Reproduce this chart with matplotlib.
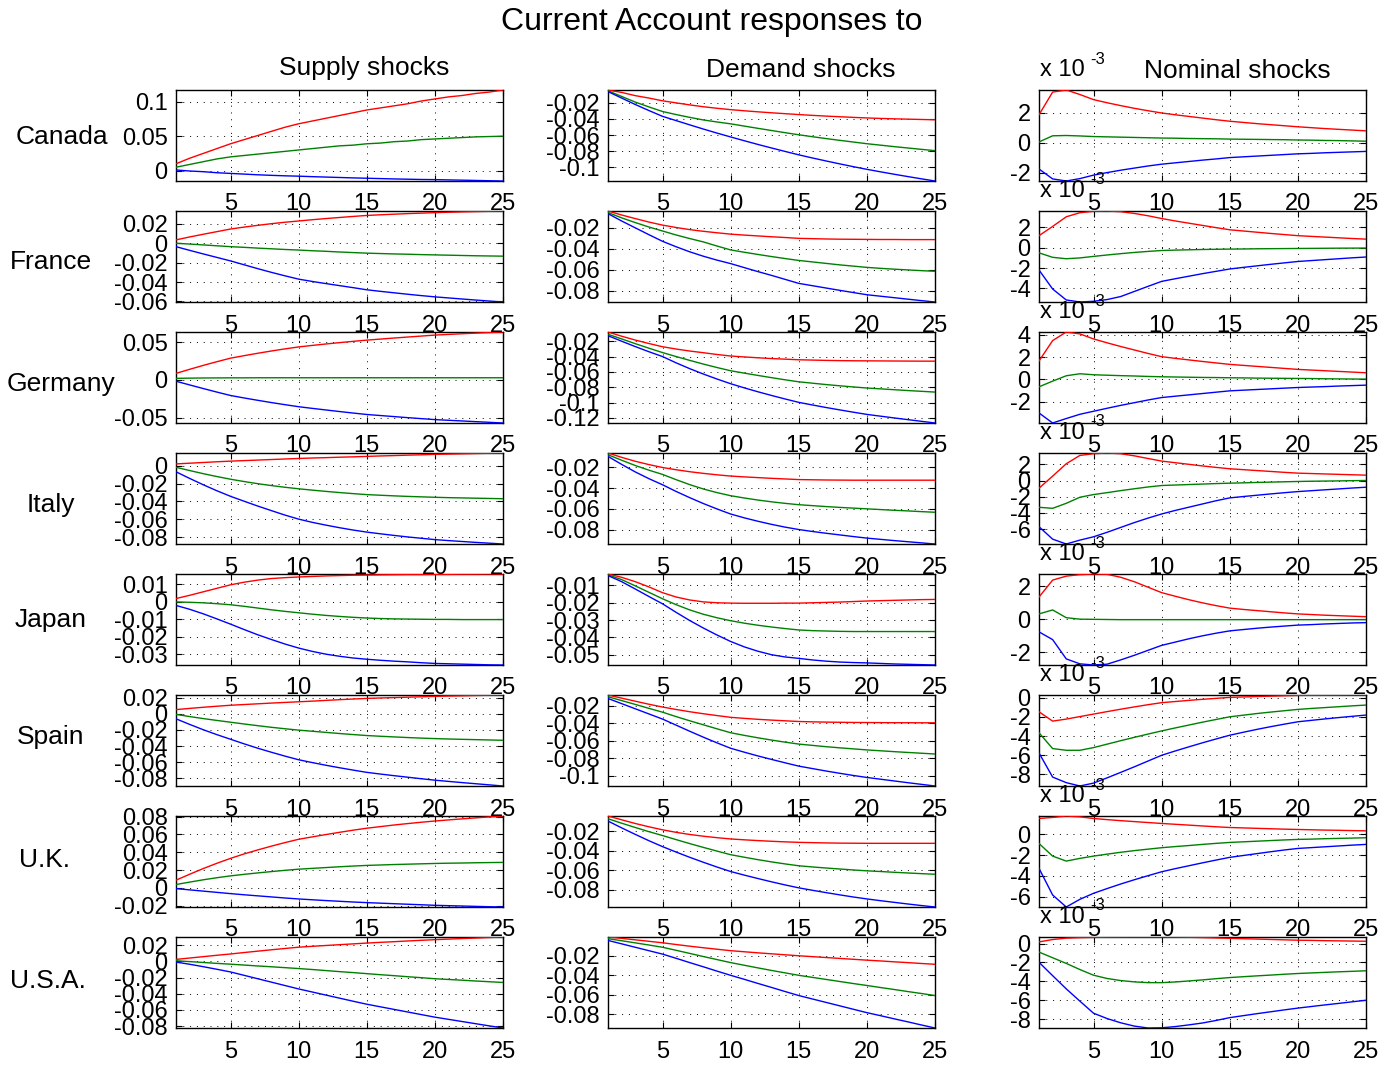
import matplotlib
matplotlib.use("Agg")
import matplotlib.pyplot as plt
from matplotlib.ticker import FuncFormatter, FixedLocator

plt.rcParams['font.family'] = ['Liberation Sans', 'DejaVu Sans']

# ---------------- data ----------------
TITLE = "Current Account responses to"
SHOCKS = ["Supply shocks", "Demand shocks", "Nominal shocks"]
COUNTRIES = ["Canada", "France", "Germany", "Italy", "Japan", "Spain", "U.K.", "U.S.A."]
HORIZON = list(range(1, 26))
XTICKS = [5, 10, 15, 20, 25]
EXP_LABEL = "x 10"
EXP_POWER = "-3"
# Nominal-shock values are in units of 1e-3 (shown with the "x 10^-3" label)

# Canada
CAN_S_R = [0.010,0.018,0.025,0.032,0.039,0.045,0.051,0.057,0.063,0.068,0.072,0.076,0.080,0.084,0.088,0.091,0.094,0.097,0.101,0.104,0.107,0.109,0.112,0.114,0.117]
CAN_S_G = [0.005,0.009,0.013,0.017,0.020,0.022,0.024,0.026,0.028,0.030,0.032,0.034,0.036,0.037,0.039,0.040,0.042,0.043,0.045,0.046,0.047,0.048,0.049,0.0495,0.050]
CAN_S_B = [0.001,-0.0005,-0.0015,-0.003,-0.004,-0.005,-0.006,-0.0068,-0.0075,-0.008,-0.0087,-0.0093,-0.0099,-0.0105,-0.011,-0.0115,-0.012,-0.0124,-0.0128,-0.013,-0.0134,-0.0138,-0.0142,-0.0146,-0.015]
CAN_D_R = [-0.004,-0.007,-0.011,-0.014,-0.0174,-0.020,-0.0225,-0.0248,-0.0267,-0.0284,-0.0298,-0.0311,-0.0323,-0.0334,-0.0345,-0.0355,-0.0364,-0.0372,-0.038,-0.0387,-0.0393,-0.0398,-0.0402,-0.0406,-0.041]
CAN_D_G = [-0.005,-0.012,-0.019,-0.025,-0.0307,-0.0345,-0.038,-0.0412,-0.0437,-0.046,-0.0488,-0.0516,-0.0543,-0.057,-0.0596,-0.062,-0.0643,-0.0665,-0.0686,-0.0707,-0.0725,-0.0743,-0.076,-0.0777,-0.0793]
CAN_D_B = [-0.006,-0.014,-0.022,-0.0295,-0.0367,-0.042,-0.0473,-0.0525,-0.0575,-0.0623,-0.067,-0.0716,-0.076,-0.0803,-0.0845,-0.0884,-0.0921,-0.0957,-0.0992,-0.1025,-0.1056,-0.1086,-0.1115,-0.1143,-0.117]
CAN_N_R = [1.85,3.36,3.5,3.2,2.86,2.65,2.46,2.28,2.12,1.97,1.85,1.74,1.63,1.52,1.42,1.34,1.26,1.19,1.12,1.05,0.99,0.93,0.88,0.83,0.78]
CAN_N_G = [0.04,0.45,0.47,0.44,0.40,0.38,0.36,0.34,0.32,0.30,0.29,0.27,0.26,0.25,0.23,0.22,0.21,0.2,0.19,0.17,0.16,0.14,0.13,0.11,0.09]
CAN_N_B = [-1.76,-2.42,-2.56,-2.4,-2.17,-2.0,-1.84,-1.7,-1.56,-1.44,-1.35,-1.26,-1.17,-1.09,-1.0,-0.95,-0.9,-0.85,-0.8,-0.75,-0.72,-0.68,-0.65,-0.62,-0.59]

# France
FRA_S_R = [0.0035,0.0065,0.0093,0.012,0.0147,0.0167,0.0185,0.0202,0.0217,0.023,0.0243,0.0255,0.0266,0.0277,0.0287,0.0294,0.03,0.0306,0.0311,0.0316,0.032,0.0324,0.0327,0.033,0.0333]
FRA_S_G = [0.0,-0.0008,-0.0017,-0.0026,-0.0035,-0.0042,-0.005,-0.0057,-0.0064,-0.007,-0.0077,-0.0083,-0.009,-0.0096,-0.0102,-0.0106,-0.011,-0.0113,-0.0117,-0.012,-0.0123,-0.0126,-0.0129,-0.0131,-0.0133]
FRA_S_B = [-0.0035,-0.0073,-0.0110,-0.0146,-0.0182,-0.0222,-0.0262,-0.03,-0.0336,-0.037,-0.0394,-0.0416,-0.0437,-0.0458,-0.048,-0.0496,-0.0511,-0.0526,-0.054,-0.0553,-0.0564,-0.0575,-0.0586,-0.0596,-0.0606]
FRA_D_R = [-0.004,-0.0078,-0.0112,-0.0145,-0.0174,-0.0197,-0.0217,-0.0233,-0.0247,-0.026,-0.0269,-0.0277,-0.0285,-0.0292,-0.030,-0.0303,-0.0306,-0.0308,-0.0309,-0.031,-0.0311,-0.0311,-0.0312,-0.0312,-0.0312]
FRA_D_G = [-0.0055,-0.0105,-0.0150,-0.0192,-0.023,-0.0268,-0.0302,-0.0334,-0.0373,-0.041,-0.0432,-0.0453,-0.0473,-0.0492,-0.051,-0.0524,-0.0538,-0.0552,-0.0564,-0.0576,-0.0585,-0.0593,-0.0600,-0.0607,-0.0613]
FRA_D_B = [-0.0065,-0.0135,-0.020,-0.0265,-0.0328,-0.038,-0.0428,-0.0470,-0.0507,-0.054,-0.0578,-0.0616,-0.0652,-0.0690,-0.0728,-0.075,-0.0772,-0.0794,-0.0815,-0.0836,-0.085,-0.0864,-0.0878,-0.0892,-0.0905]
FRA_N_R = [1.19,2.1,3.05,3.45,3.59,3.62,3.55,3.38,3.15,2.88,2.64,2.42,2.2,1.98,1.77,1.65,1.53,1.41,1.3,1.19,1.12,1.05,0.98,0.91,0.85]
FRA_N_G = [-0.5,-0.94,-1.08,-1.0,-0.85,-0.71,-0.58,-0.46,-0.36,-0.27,-0.23,-0.2,-0.17,-0.15,-0.13,-0.12,-0.1,-0.09,-0.08,-0.07,-0.06,-0.05,-0.04,-0.035,-0.03]
FRA_N_B = [-2.19,-4.06,-5.14,-5.34,-5.27,-5.1,-4.8,-4.3,-3.8,-3.31,-3.05,-2.8,-2.55,-2.32,-2.09,-1.93,-1.78,-1.63,-1.49,-1.35,-1.26,-1.17,-1.08,-0.99,-0.91]

# Germany
GER_S_R = [0.0086,0.0140,0.0192,0.0241,0.0288,0.0321,0.0353,0.0383,0.0411,0.0437,0.0457,0.0476,0.0494,0.0511,0.0527,0.0541,0.0555,0.0568,0.0581,0.0594,0.0603,0.0612,0.0620,0.0628,0.0635]
GER_S_G = [0.0020,0.0023,0.0025,0.0026,0.0027,0.0027,0.0028,0.0028,0.0028,0.0028,0.0028,0.0028,0.0028,0.0028,0.0028,0.0028,0.0028,0.0028,0.0028,0.0028,0.0028,0.0028,0.0028,0.0028,0.0028]
GER_S_B = [-0.0018,-0.0067,-0.0115,-0.0162,-0.0207,-0.0240,-0.0271,-0.0301,-0.0329,-0.0356,-0.0378,-0.0399,-0.0420,-0.0440,-0.0459,-0.0473,-0.0487,-0.0501,-0.0514,-0.0527,-0.0536,-0.0545,-0.0554,-0.0563,-0.0572]
GER_D_R = [-0.008,-0.0135,-0.0185,-0.023,-0.0272,-0.0302,-0.0328,-0.0350,-0.0373,-0.0393,-0.0405,-0.0416,-0.0426,-0.0434,-0.0442,-0.0446,-0.0450,-0.0453,-0.0455,-0.0456,-0.0457,-0.0458,-0.0459,-0.046,-0.046]
GER_D_G = [-0.011,-0.0170,-0.0232,-0.0291,-0.0348,-0.0400,-0.0450,-0.0498,-0.0543,-0.0585,-0.0616,-0.0646,-0.0675,-0.0703,-0.0729,-0.0747,-0.0765,-0.0781,-0.0796,-0.081,-0.0821,-0.0832,-0.0843,-0.0853,-0.0863]
GER_D_B = [-0.0128,-0.0200,-0.0270,-0.0337,-0.0400,-0.0482,-0.0558,-0.0628,-0.0693,-0.0754,-0.0808,-0.0859,-0.0907,-0.0953,-0.0997,-0.1031,-0.1064,-0.1095,-0.1125,-0.1154,-0.1177,-0.1200,-0.1222,-0.1244,-0.1266]
GER_N_R = [1.65,3.48,4.25,4.08,3.63,3.28,2.95,2.64,2.33,2.04,1.89,1.75,1.61,1.48,1.35,1.26,1.17,1.08,0.99,0.9,0.84,0.78,0.72,0.66,0.6]
GER_N_G = [-0.66,-0.15,0.33,0.51,0.42,0.38,0.34,0.31,0.27,0.24,0.22,0.2,0.18,0.17,0.15,0.14,0.12,0.11,0.1,0.09,0.08,0.06,0.05,0.04,0.03]
GER_N_B = [-3.0,-3.9,-3.5,-3.12,-2.85,-2.58,-2.32,-2.08,-1.84,-1.62,-1.5,-1.38,-1.26,-1.14,-1.02,-0.96,-0.9,-0.84,-0.78,-0.72,-0.68,-0.64,-0.59,-0.55,-0.51]

# Italy
ITA_S_R = [0.0019,0.0027,0.0035,0.0043,0.005,0.0056,0.0062,0.0068,0.0074,0.008,0.0085,0.0089,0.0094,0.0098,0.0103,0.0108,0.0112,0.0117,0.0121,0.0126,0.0129,0.0132,0.0135,0.0138,0.0141]
ITA_S_G = [-0.0019,-0.0055,-0.0090,-0.0122,-0.0152,-0.0178,-0.0202,-0.0223,-0.0242,-0.0259,-0.0274,-0.0288,-0.0301,-0.0313,-0.0324,-0.0331,-0.0338,-0.0344,-0.0349,-0.0354,-0.0358,-0.0361,-0.0364,-0.0367,-0.037]
ITA_S_B = [-0.0069,-0.0143,-0.0214,-0.0281,-0.0343,-0.0398,-0.0452,-0.0503,-0.0553,-0.0598,-0.0634,-0.0665,-0.0694,-0.0720,-0.0743,-0.0762,-0.0780,-0.0797,-0.0812,-0.0827,-0.0838,-0.0848,-0.0858,-0.0867,-0.0876]
ITA_D_R = [-0.006,-0.0102,-0.0140,-0.0172,-0.020,-0.0222,-0.0241,-0.0257,-0.0271,-0.0283,-0.0291,-0.0298,-0.0305,-0.0311,-0.0317,-0.0319,-0.0321,-0.0322,-0.0323,-0.0323,-0.0323,-0.0323,-0.0323,-0.0323,-0.0323]
ITA_D_G = [-0.0077,-0.0130,-0.0181,-0.0226,-0.0267,-0.0318,-0.0366,-0.0408,-0.0443,-0.0473,-0.0495,-0.0515,-0.0532,-0.0547,-0.056,-0.0569,-0.0578,-0.0586,-0.0593,-0.06,-0.0607,-0.0614,-0.062,-0.0627,-0.0633]
ITA_D_B = [-0.0093,-0.0170,-0.0243,-0.0308,-0.0367,-0.0432,-0.0492,-0.0549,-0.0601,-0.065,-0.0687,-0.0720,-0.0750,-0.0777,-0.080,-0.0819,-0.0836,-0.0852,-0.0868,-0.0883,-0.0895,-0.0907,-0.0918,-0.0929,-0.094]
ITA_N_R = [-0.95,0.54,2.07,3.1,3.31,3.4,3.31,3.05,2.72,2.4,2.2,2.0,1.8,1.62,1.45,1.34,1.23,1.12,1.01,0.91,0.86,0.81,0.76,0.71,0.66]
ITA_N_G = [-3.31,-3.44,-2.82,-2.07,-1.74,-1.5,-1.25,-1.02,-0.8,-0.62,-0.56,-0.5,-0.44,-0.38,-0.33,-0.29,-0.24,-0.2,-0.16,-0.12,-0.09,-0.07,-0.05,-0.02,0.0]
ITA_N_B = [-5.71,-7.25,-7.85,-7.37,-6.96,-6.4,-5.8,-5.2,-4.65,-4.14,-3.7,-3.3,-2.9,-2.5,-2.15,-1.98,-1.82,-1.66,-1.51,-1.37,-1.26,-1.15,-1.04,-0.93,-0.83]

# Japan
JPN_S_R = [0.00195,0.0038,0.0058,0.0078,0.0098,0.0113,0.0125,0.0134,0.0139,0.0143,0.0146,0.0149,0.0151,0.0153,0.0154,0.0155,0.0156,0.0157,0.0157,0.0158,0.0158,0.0159,0.0159,0.016,0.016]
JPN_S_G = [0.0,-0.0002,-0.0005,-0.001,-0.0016,-0.0025,-0.0035,-0.0045,-0.0054,-0.0062,-0.0070,-0.0077,-0.0083,-0.0088,-0.0092,-0.0095,-0.0097,-0.0098,-0.0099,-0.0100,-0.0100,-0.0101,-0.0101,-0.0101,-0.0101]
JPN_S_B = [-0.002,-0.0042,-0.0068,-0.0097,-0.0127,-0.0158,-0.0188,-0.0215,-0.0241,-0.0264,-0.0283,-0.0299,-0.0311,-0.0321,-0.0328,-0.0334,-0.0339,-0.0343,-0.0348,-0.0352,-0.0354,-0.0356,-0.0358,-0.036,-0.0361]
JPN_D_R = [-0.0036,-0.0055,-0.0080,-0.0110,-0.0143,-0.0168,-0.0185,-0.0196,-0.0201,-0.0203,-0.0204,-0.0204,-0.0204,-0.0203,-0.0203,-0.0201,-0.0199,-0.0197,-0.0194,-0.0191,-0.0189,-0.0187,-0.0185,-0.0183,-0.0182]
JPN_D_G = [-0.0041,-0.0068,-0.0104,-0.0141,-0.0178,-0.0212,-0.0242,-0.0267,-0.0287,-0.0304,-0.0318,-0.0330,-0.0340,-0.0349,-0.0357,-0.0361,-0.0363,-0.0365,-0.0366,-0.0366,-0.0366,-0.0366,-0.0366,-0.0366,-0.0366]
JPN_D_B = [-0.0045,-0.0080,-0.0122,-0.0165,-0.0207,-0.0256,-0.0303,-0.0346,-0.0386,-0.0423,-0.0454,-0.0479,-0.0499,-0.0512,-0.052,-0.0529,-0.0536,-0.0541,-0.0544,-0.0546,-0.0549,-0.0552,-0.0554,-0.0556,-0.0558]
JPN_N_R = [1.35,2.38,2.62,2.71,2.75,2.73,2.55,2.28,1.95,1.62,1.4,1.19,1.0,0.83,0.68,0.6,0.53,0.46,0.39,0.33,0.29,0.25,0.22,0.19,0.16]
JPN_N_G = [0.33,0.57,0.1,0.01,0.0,-0.01,-0.02,-0.02,-0.02,-0.02,-0.02,-0.02,-0.02,-0.02,-0.02,-0.02,-0.02,-0.02,-0.02,-0.02,-0.02,-0.02,-0.02,-0.02,-0.02]
JPN_N_B = [-0.76,-1.23,-2.4,-2.7,-2.77,-2.72,-2.46,-2.18,-1.88,-1.58,-1.38,-1.18,-1.0,-0.84,-0.7,-0.62,-0.54,-0.47,-0.41,-0.35,-0.32,-0.28,-0.25,-0.22,-0.2]

# Spain
ESP_S_R = [0.0051,0.0066,0.0080,0.0093,0.0105,0.0114,0.0123,0.0132,0.014,0.0148,0.0156,0.0165,0.0174,0.0182,0.019,0.0195,0.0200,0.0205,0.021,0.0215,0.0219,0.0222,0.0226,0.0229,0.0232]
ESP_S_G = [-0.0008,-0.0035,-0.0060,-0.0083,-0.0105,-0.0127,-0.0148,-0.0168,-0.0186,-0.0203,-0.0217,-0.0231,-0.0245,-0.0258,-0.027,-0.0279,-0.0287,-0.0295,-0.0302,-0.0308,-0.0313,-0.0317,-0.0321,-0.0325,-0.0329]
ESP_S_B = [-0.0063,-0.0132,-0.0198,-0.0259,-0.0316,-0.0373,-0.0427,-0.0477,-0.0525,-0.057,-0.0605,-0.0638,-0.0669,-0.0698,-0.0726,-0.0747,-0.0767,-0.0786,-0.0805,-0.0823,-0.0838,-0.0853,-0.0867,-0.0881,-0.0895]
ESP_D_R = [-0.0074,-0.011,-0.0145,-0.018,-0.0212,-0.0240,-0.0266,-0.0289,-0.031,-0.033,-0.0342,-0.0353,-0.0362,-0.0370,-0.0378,-0.0382,-0.0385,-0.0387,-0.0389,-0.039,-0.0391,-0.0392,-0.0392,-0.0393,-0.0393]
ESP_D_G = [-0.0094,-0.0138,-0.0182,-0.0227,-0.0271,-0.0322,-0.0370,-0.0416,-0.0462,-0.0507,-0.0537,-0.0565,-0.0591,-0.0615,-0.0637,-0.0652,-0.0667,-0.0680,-0.0692,-0.0704,-0.0714,-0.0724,-0.0733,-0.0742,-0.0751]
ESP_D_B = [-0.0114,-0.0173,-0.0232,-0.0291,-0.035,-0.0420,-0.0490,-0.0558,-0.0623,-0.0685,-0.0730,-0.0773,-0.0813,-0.0852,-0.089,-0.0918,-0.0946,-0.0972,-0.0997,-0.102,-0.104,-0.106,-0.108,-0.1099,-0.1118]
ESP_N_R = [-1.47,-2.44,-2.23,-1.97,-1.71,-1.45,-1.2,-0.96,-0.73,-0.52,-0.4,-0.28,-0.17,-0.07,0.03,0.08,0.12,0.16,0.2,0.24,0.25,0.26,0.27,0.28,0.28]
ESP_N_G = [-3.66,-5.3,-5.48,-5.48,-5.2,-4.84,-4.48,-4.13,-3.79,-3.46,-3.15,-2.85,-2.55,-2.27,-1.99,-1.82,-1.65,-1.5,-1.36,-1.22,-1.12,-1.03,-0.94,-0.85,-0.77]
ESP_N_B = [-5.76,-8.27,-8.85,-9.2,-8.9,-8.35,-7.78,-7.2,-6.6,-6.0,-5.55,-5.12,-4.7,-4.3,-3.91,-3.6,-3.3,-3.02,-2.76,-2.51,-2.36,-2.21,-2.07,-1.94,-1.81]

# U.K.
GBR_S_R = [0.0087,0.0153,0.0217,0.0276,0.0331,0.0381,0.0426,0.0468,0.0508,0.0545,0.0572,0.0598,0.0623,0.0647,0.0669,0.0687,0.0705,0.0721,0.0736,0.0750,0.0762,0.0774,0.0785,0.0796,0.0806]
GBR_S_G = [0.0038,0.0065,0.0091,0.0114,0.0135,0.0152,0.0168,0.0183,0.0197,0.021,0.0219,0.0228,0.0237,0.0245,0.0252,0.0257,0.0262,0.0266,0.027,0.0274,0.0277,0.0279,0.0282,0.0284,0.0286]
GBR_S_B = [-0.0008,-0.0022,-0.0036,-0.005,-0.0064,-0.0077,-0.0089,-0.0101,-0.0113,-0.0124,-0.0133,-0.0142,-0.015,-0.0158,-0.0165,-0.0171,-0.0177,-0.0183,-0.0189,-0.0195,-0.0199,-0.0203,-0.0207,-0.0211,-0.0214]
GBR_D_R = [-0.0044,-0.0083,-0.0121,-0.0155,-0.0186,-0.0212,-0.0234,-0.0252,-0.0267,-0.028,-0.0289,-0.0297,-0.0304,-0.031,-0.0315,-0.0318,-0.0321,-0.0323,-0.0324,-0.0325,-0.0325,-0.0325,-0.0325,-0.0325,-0.0325]
GBR_D_G = [-0.0072,-0.0118,-0.0162,-0.0205,-0.0245,-0.0287,-0.0328,-0.0367,-0.0405,-0.0442,-0.0468,-0.0493,-0.0516,-0.0537,-0.0556,-0.0568,-0.0579,-0.0589,-0.0599,-0.0608,-0.0615,-0.0623,-0.063,-0.0637,-0.0643]
GBR_D_B = [-0.0096,-0.0166,-0.0233,-0.0298,-0.0359,-0.0415,-0.0469,-0.052,-0.0569,-0.0615,-0.0652,-0.0687,-0.0721,-0.0753,-0.0783,-0.0808,-0.0832,-0.0855,-0.0877,-0.0897,-0.0915,-0.0932,-0.0949,-0.0965,-0.098]
GBR_N_R = [1.54,1.64,1.78,1.7,1.54,1.43,1.33,1.24,1.15,1.06,0.98,0.9,0.82,0.74,0.67,0.63,0.59,0.55,0.51,0.48,0.45,0.42,0.4,0.37,0.35]
GBR_N_G = [-0.87,-2.09,-2.57,-2.31,-2.09,-1.9,-1.72,-1.56,-1.42,-1.28,-1.17,-1.07,-0.96,-0.86,-0.77,-0.71,-0.65,-0.59,-0.53,-0.48,-0.45,-0.41,-0.38,-0.35,-0.32]
GBR_N_B = [-3.27,-5.84,-7.0,-6.26,-5.68,-5.22,-4.78,-4.37,-3.98,-3.6,-3.3,-3.02,-2.74,-2.47,-2.21,-2.03,-1.85,-1.67,-1.5,-1.35,-1.27,-1.19,-1.11,-1.03,-0.96]

# U.S.A.
USA_S_R = [0.0025,0.0042,0.0059,0.0076,0.0092,0.0110,0.0127,0.0144,0.0160,0.0176,0.0187,0.0197,0.0207,0.0217,0.0227,0.0236,0.0244,0.0253,0.0261,0.0269,0.0276,0.0283,0.0289,0.0296,0.0302]
USA_S_G = [0.0008,-0.0002,-0.0013,-0.0024,-0.0034,-0.0045,-0.0056,-0.0066,-0.0077,-0.0088,-0.01,-0.0113,-0.0126,-0.0138,-0.0151,-0.0164,-0.0176,-0.0189,-0.0201,-0.0214,-0.0223,-0.0232,-0.0242,-0.0251,-0.026]
USA_S_B = [-0.0008,-0.0035,-0.0065,-0.0097,-0.013,-0.0172,-0.0214,-0.0256,-0.0298,-0.034,-0.0378,-0.0416,-0.0454,-0.0492,-0.0529,-0.0561,-0.0593,-0.0625,-0.0657,-0.0689,-0.0716,-0.0743,-0.077,-0.0797,-0.0823]
USA_D_R = [-0.0008,-0.0022,-0.0037,-0.0052,-0.0067,-0.0085,-0.0102,-0.0118,-0.0133,-0.0148,-0.0159,-0.0170,-0.0180,-0.019,-0.020,-0.0209,-0.0218,-0.0227,-0.0236,-0.0245,-0.0253,-0.0262,-0.027,-0.0279,-0.0287]
USA_D_G = [-0.0025,-0.0046,-0.0068,-0.009,-0.0113,-0.0144,-0.0176,-0.0208,-0.0239,-0.027,-0.0297,-0.0324,-0.035,-0.0375,-0.040,-0.0421,-0.0442,-0.0463,-0.0484,-0.0504,-0.0525,-0.0545,-0.0566,-0.0586,-0.0607]
USA_D_B = [-0.0043,-0.0078,-0.0113,-0.0148,-0.0183,-0.0226,-0.0270,-0.0313,-0.0357,-0.040,-0.0441,-0.0483,-0.0524,-0.0566,-0.0607,-0.0642,-0.0677,-0.0712,-0.0747,-0.0782,-0.0813,-0.0845,-0.0876,-0.0908,-0.0939]
USA_N_R = [0.18,0.43,0.58,0.63,0.66,0.68,0.69,0.7,0.7,0.7,0.69,0.67,0.64,0.6,0.56,0.52,0.48,0.44,0.4,0.36,0.34,0.31,0.29,0.27,0.25]
USA_N_G = [-0.9,-1.5,-2.1,-2.75,-3.35,-3.7,-3.92,-4.06,-4.14,-4.14,-4.07,-3.96,-3.85,-3.72,-3.6,-3.51,-3.42,-3.34,-3.25,-3.17,-3.11,-3.05,-2.99,-2.94,-2.88]
USA_N_B = [-1.98,-3.4,-4.8,-6.1,-7.38,-7.95,-8.4,-8.75,-8.95,-8.93,-8.8,-8.62,-8.42,-8.15,-7.85,-7.64,-7.43,-7.23,-7.03,-6.84,-6.67,-6.5,-6.34,-6.17,-6.01]

# y tick values per panel (supply, demand, nominal)
CAN_TICKS = [[0, 0.05, 0.1], [-0.1, -0.08, -0.06, -0.04, -0.02], [-2, 0, 2]]
FRA_TICKS = [[-0.06, -0.04, -0.02, 0, 0.02], [-0.08, -0.06, -0.04, -0.02], [-4, -2, 0, 2]]
GER_TICKS = [[-0.05, 0, 0.05], [-0.12, -0.1, -0.08, -0.06, -0.04, -0.02], [-2, 0, 2, 4]]
ITA_TICKS = [[-0.08, -0.06, -0.04, -0.02, 0], [-0.08, -0.06, -0.04, -0.02], [-6, -4, -2, 0, 2]]
JPN_TICKS = [[-0.03, -0.02, -0.01, 0, 0.01], [-0.05, -0.04, -0.03, -0.02, -0.01], [-2, 0, 2]]
ESP_TICKS = [[-0.08, -0.06, -0.04, -0.02, 0, 0.02], [-0.1, -0.08, -0.06, -0.04, -0.02], [-8, -6, -4, -2, 0]]
GBR_TICKS = [[-0.02, 0, 0.02, 0.04, 0.06, 0.08], [-0.08, -0.06, -0.04, -0.02], [-6, -4, -2, 0]]
USA_TICKS = [[-0.08, -0.06, -0.04, -0.02, 0, 0.02], [-0.08, -0.06, -0.04, -0.02], [-8, -6, -4, -2, 0]]

PANELS = [
    [(CAN_S_R, CAN_S_G, CAN_S_B), (CAN_D_R, CAN_D_G, CAN_D_B), (CAN_N_R, CAN_N_G, CAN_N_B)],
    [(FRA_S_R, FRA_S_G, FRA_S_B), (FRA_D_R, FRA_D_G, FRA_D_B), (FRA_N_R, FRA_N_G, FRA_N_B)],
    [(GER_S_R, GER_S_G, GER_S_B), (GER_D_R, GER_D_G, GER_D_B), (GER_N_R, GER_N_G, GER_N_B)],
    [(ITA_S_R, ITA_S_G, ITA_S_B), (ITA_D_R, ITA_D_G, ITA_D_B), (ITA_N_R, ITA_N_G, ITA_N_B)],
    [(JPN_S_R, JPN_S_G, JPN_S_B), (JPN_D_R, JPN_D_G, JPN_D_B), (JPN_N_R, JPN_N_G, JPN_N_B)],
    [(ESP_S_R, ESP_S_G, ESP_S_B), (ESP_D_R, ESP_D_G, ESP_D_B), (ESP_N_R, ESP_N_G, ESP_N_B)],
    [(GBR_S_R, GBR_S_G, GBR_S_B), (GBR_D_R, GBR_D_G, GBR_D_B), (GBR_N_R, GBR_N_G, GBR_N_B)],
    [(USA_S_R, USA_S_G, USA_S_B), (USA_D_R, USA_D_G, USA_D_B), (USA_N_R, USA_N_G, USA_N_B)],
]
TICKS = [CAN_TICKS, FRA_TICKS, GER_TICKS, ITA_TICKS, JPN_TICKS, ESP_TICKS, GBR_TICKS, USA_TICKS]

# ---------------- layout / style ----------------
W, H = 1399, 1066
COL_LEFT = [176, 608, 1039]
ROW_TOP = [90, 211, 332, 453, 574, 695, 816, 937]
AX_W, AX_H = 327, 91
LABEL_POS = [(108, 137), (92, 262), (115, 384), (75, 505), (87, 620), (84, 737), (70, 860), (86, 981)]
LINE_COLORS = ["#ff0000", "#008000", "#0000ff"]

fig = plt.figure(figsize=(W / 100, H / 100), dpi=100)

fmt = FuncFormatter(lambda v, p: ("%g" % round(v, 6)).replace("\u2212", "-"))

for r, country in enumerate(COUNTRIES):
    for c in range(3):
        left = COL_LEFT[c] / W
        bottom = 1 - (ROW_TOP[r] + AX_H) / H
        ax = fig.add_axes([left, bottom, AX_W / W, AX_H / H])
        ax.set_facecolor("none")
        series = PANELS[r][c]
        for ys, col in zip(series, LINE_COLORS):
            ax.plot(HORIZON, ys, color=col, lw=1.0, zorder=3)
        allv = [v for s in series for v in s]
        ax.set_xlim(HORIZON[0], HORIZON[-1])
        ax.set_ylim(min(allv), max(allv))
        ax.xaxis.set_major_locator(FixedLocator(XTICKS))
        ax.yaxis.set_major_locator(FixedLocator(TICKS[r][c]))
        ax.xaxis.set_major_formatter(fmt)
        ax.yaxis.set_major_formatter(fmt)
        ax.grid(True, linestyle=(0, (1, 6)), color="black", linewidth=0.7)
        ax.set_axisbelow(True)
        ax.tick_params(direction="in", top=True, right=True, length=4, width=0.8,
                       labelsize=17)
        ax.tick_params(axis="x", pad=9)
        ax.tick_params(axis="y", pad=6)
        for sp in ax.spines.values():
            sp.set_linewidth(1.0)
        if c == 2:
            ax.annotate(EXP_LABEL, xy=(0, 1), xycoords="axes fraction",
                        xytext=(1, 20), textcoords="offset pixels",
                        ha="left", va="center", fontsize=17, annotation_clip=False)
            ax.annotate(EXP_POWER, xy=(0, 1), xycoords="axes fraction",
                        xytext=(51, 31), textcoords="offset pixels",
                        ha="left", va="center", fontsize=12, annotation_clip=False)
    lx, ly = LABEL_POS[r]
    fig.text(lx / W, 1 - ly / H, country, ha="right", va="center", fontsize=19)

TITLE_POS = [(364, 68), (801, 70), (1237, 71)]
for (tx, ty), t in zip(TITLE_POS, SHOCKS):
    fig.text(tx / W, 1 - ty / H, t, ha="center", va="center", fontsize=19)
fig.text(712 / W, 1 - 22 / H, TITLE, ha="center", va="center", fontsize=23)

fig.savefig("out.png", dpi=100)
